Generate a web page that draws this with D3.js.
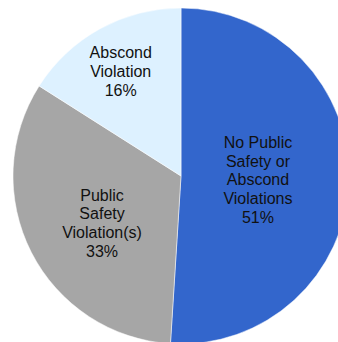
<!DOCTYPE html>
<html>
<head>
<meta charset="utf-8">
<script src="https://cdn.jsdelivr.net/npm/d3@7"></script>
<style>
  body { margin: 0; background: #fff; }
  svg { display: block; }
</style>
</head>
<body>
<div class="chart"></div>
<script>
//Data
var categories = ["No Public Safety or Abscond Violations", "Public Safety Violation(s)", "Abscond Violation"];
var values = [51, 33, 16];
var labelLines = [
  ["No Public", "Safety or", "Abscond", "Violations"],
  ["Public", "Safety", "Violation(s)"],
  ["Abscond", "Violation"]
];
var colors = ["#3366CC", "#A6A6A6", "#DDF1FF"];

function pieChart(){
  var w = 338;
  var h = 342;
  var cx = 181, cy = 176, r = 168;
  //How far from the centre each label sits, plus a small nudge
  var labelRadius = [77, 92, 121];
  var labelNudge = [[0, 1], [3, 5], [-2, 1]];

  var svg = d3.select(".chart")
              .append("svg")
              .attr("width", w)
              .attr("height", h);

  var g = svg.append("g")
             .attr("transform", "translate(" + cx + "," + cy + ")");

  var pie = d3.pie().sort(null).value(function(d){ return d; });
  var arcs = pie(values);

  var arc = d3.arc().innerRadius(0).outerRadius(r);

  g.selectAll("path")
   .data(arcs)
   .enter()
   .append("path")
   .attr("d", arc)
   .attr("fill", function(d, i){ return colors[i]; })
   .attr("stroke", "#fff")
   .attr("stroke-width", 0.5);

  //Labels, several lines each plus the percent
  var lineH = 18.6;
  arcs.forEach(function(d, i){
    var la = d3.arc().innerRadius(labelRadius[i]).outerRadius(labelRadius[i]);
    var c = la.centroid(d);
    var x = c[0] + labelNudge[i][0];
    var y = c[1] + labelNudge[i][1];
    var lines = labelLines[i].concat([values[i] + "%"]);
    var text = g.append("text")
                .attr("x", x)
                .attr("y", y - (lines.length - 1) * lineH / 2)
                .attr("text-anchor", "middle")
                .attr("dominant-baseline", "central")
                .style("font-family", "Liberation Sans, Arial, sans-serif")
                .style("font-size", "16px")
                .attr("fill", "#111");
    lines.forEach(function(l, j){
      text.append("tspan")
          .attr("x", x)
          .attr("dy", j == 0 ? 0 : lineH)
          .text(l);
    });
  });
}

pieChart();
</script>
</body>
</html>
